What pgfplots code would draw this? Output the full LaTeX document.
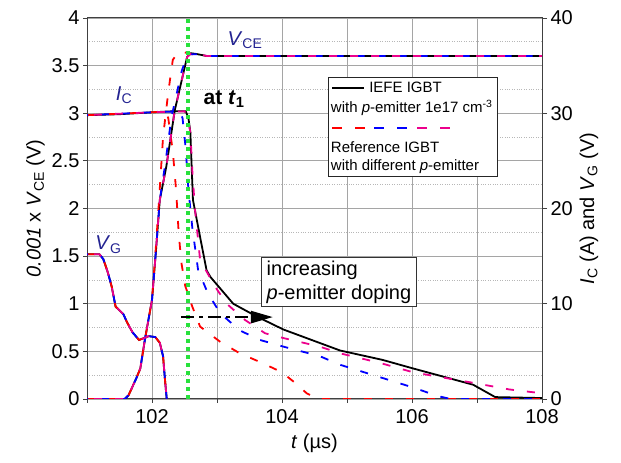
\documentclass[border=0pt]{standalone}
\usepackage{fontspec}
\setmainfont{Liberation Sans}
\usepackage{pgfplots}
\usepackage{pgfplotstable}
\pgfplotsset{compat=1.18}
\usetikzlibrary{arrows.meta}

\definecolor{navy}{RGB}{35,35,145}
\definecolor{mygreen}{RGB}{40,225,60}
\definecolor{gridgray}{RGB}{165,165,165}

% V_G, the same for all devices (left units = V/10)
\pgfplotstableread{
x y
101.00 1.52
101.19 1.52
101.25 1.47
101.32 1.33
101.38 1.18
101.44 0.97
101.50 0.93
101.56 0.89
101.62 0.80
101.70 0.70
101.80 0.62
101.88 0.64
101.95 0.66
102.05 0.65
102.12 0.59
102.17 0.45
102.20 0.20
102.24 -0.10
}\vgdata

% 0.001 x V_CE
\pgfplotstableread{
x y
101.00 0.00
101.58 0.00
101.64 0.04
101.70 0.13
101.76 0.22
101.82 0.32
101.89 0.62
101.95 0.85
102.00 1.04
102.06 1.55
102.12 2.09
102.22 2.44
102.35 3.03
102.54 3.59
102.60 3.63
102.70 3.62
102.85 3.60
108.00 3.60
}\vceK
\pgfplotstableread{
x y
101.00 0.00
101.58 0.00
101.64 0.04
101.70 0.13
101.76 0.22
101.82 0.32
101.89 0.62
101.95 0.85
102.00 1.04
102.05 1.50
102.10 2.00
102.17 2.75
102.25 3.22
102.32 3.56
102.40 3.64
102.50 3.64
102.60 3.62
102.80 3.60
108.00 3.60
}\vceR
\pgfplotstableread{
x y
101.00 0.00
101.58 0.00
101.64 0.04
101.70 0.13
101.76 0.22
101.82 0.32
101.89 0.62
101.95 0.85
102.00 1.04
102.06 1.55
102.12 2.09
102.20 2.45
102.30 2.96
102.46 3.45
102.55 3.62
102.70 3.62
102.85 3.60
108.00 3.60
}\vceB
\pgfplotstableread{
x y
101.00 0.00
101.58 0.00
101.64 0.04
101.70 0.13
101.76 0.22
101.82 0.32
101.89 0.62
101.95 0.85
102.00 1.04
102.06 1.55
102.12 2.09
102.22 2.44
102.35 3.03
102.54 3.59
102.62 3.64
102.72 3.62
102.85 3.60
108.00 3.60
}\vceM

% I_C (left units = A/10)
\pgfplotstableread{
x y
101.00 2.98
101.50 2.99
102.00 3.01
102.30 3.02
102.52 3.02
102.56 2.95
102.59 2.80
102.63 2.09
102.74 1.70
102.84 1.35
102.90 1.28
103.25 1.00
103.60 0.87
104.02 0.73
104.89 0.51
105.55 0.41
106.02 0.32
106.94 0.15
107.28 0.02
108.00 0.01
}\icK
\pgfplotstableread{
x y
101.00 2.98
102.00 3.01
102.20 3.02
102.25 2.95
102.32 2.60
102.37 2.20
102.41 1.75
102.45 1.44
102.51 1.19
102.62 0.97
102.74 0.76
103.05 0.60
103.35 0.48
103.69 0.38
104.00 0.28
104.20 0.17
104.38 0.06
104.55 0.00
108.00 0.00
}\icR
\pgfplotstableread{
x y
101.00 2.98
102.00 3.01
102.42 3.02
102.47 2.95
102.52 2.62
102.56 2.20
102.62 1.80
102.71 1.35
102.86 1.11
103.05 0.90
103.35 0.72
103.66 0.62
104.02 0.55
104.58 0.45
104.89 0.36
105.55 0.22
106.02 0.12
106.40 0.03
106.60 0.00
108.00 0.00
}\icB
\pgfplotstableread{
x y
101.00 2.98
102.00 3.01
102.50 3.02
102.55 2.96
102.59 2.80
102.62 2.40
102.66 2.00
102.74 1.46
102.97 1.18
103.15 1.00
103.43 0.83
103.74 0.69
104.02 0.64
104.58 0.55
104.89 0.48
105.50 0.38
106.02 0.28
106.94 0.17
107.50 0.10
108.00 0.06
}\icM

\pgfplotsset{
  solidk/.style={black, line width=1.8pt},
  dashr/.style={red, line width=1.8pt, dash pattern=on 8pt off 13pt, dash phase=0pt},
  dashb/.style={blue, line width=1.8pt, dash pattern=on 8pt off 13pt, dash phase=7pt},
  dashm/.style={magenta, line width=1.8pt, dash pattern=on 8pt off 13pt, dash phase=14pt},
}

\begin{document}
\begin{tikzpicture}
\useasboundingbox (0,0) rectangle (621pt,463pt);
\begin{axis}[
  at={(87pt,64pt)}, anchor=south west,
  width=455pt, height=381pt, scale only axis,
  xmin=101, xmax=108, ymin=0, ymax=4,
  xtick={101,102,103,104,105,106,107,108},
  xticklabels={,102,,104,,106,,108},
  xticklabel style={yshift=-3pt},
  ytick={0,0.5,1,1.5,2,2.5,3,3.5,4},
  minor ytick={0.25,0.75,1.25,1.75,2.25,2.75,3.25,3.75},
  grid=both,
  major grid style={gridgray, line width=0.8pt},
  minor grid style={gridgray!80, dotted, line width=0.8pt},
  tick align=outside, xtick pos=bottom, ytick pos=left,
  major tick length=4pt, minor tick length=0pt,
  axis line style={black!75, line width=1pt},
  tick style={black!75, line width=0.8pt},
  font=\fontsize{20}{24}\selectfont,
  /pgf/number format/assume math mode=true,
  xlabel={\textit{t} (µs)},
  xlabel style={yshift=-3pt},
  ylabel={\textit{0.001} x \textit{V}\textsubscript{CE} (V)},
  clip mode=individual,
]
% reference-device curves and the IEFE IGBT
\addplot[solidk] table {\vgdata};
\addplot[solidk] table {\vceK};
\addplot[solidk] table {\icK};
\addplot[dashr] table {\vgdata};
\addplot[dashr] table {\vceR};
\addplot[dashr] table {\icR};
\addplot[dashb] table {\vgdata};
\addplot[dashb] table {\vceB};
\addplot[dashb] table {\icB};
\addplot[dashm] table {\vgdata};
\addplot[dashm] table {\vceM};
\addplot[dashm] table {\icM};
% t1 marker
\addplot[mygreen, line width=4pt, dash pattern=on 4pt off 4pt] coordinates {(102.55,0) (102.55,4)};

% curve names
\node[text=navy] at (axis cs:103.43,3.77) {\textit{V}\textsubscript{CE}};
\node[text=navy] at (axis cs:101.57,3.19) {\textit{I}\textsubscript{C}};
\node[text=navy] at (axis cs:101.33,1.62) {\textit{V}\textsubscript{G}};
\node[font=\bfseries\fontsize{21}{24}\selectfont] at (axis cs:103.11,3.15) {at \textit{t}\textsubscript{1}};

% anchors for the legend, drawn after the axes
\coordinate (lgA) at (axis cs:104.72,3.38);
\coordinate (lgB) at (axis cs:107.32,2.34);
\coordinate (lg1) at (axis cs:104.77,3.27);
\coordinate (lg2) at (axis cs:104.75,3.06);
\coordinate (lg3) at (axis cs:104.77,2.85);
\coordinate (lg4) at (axis cs:104.75,2.64);
\coordinate (lg5) at (axis cs:104.75,2.44);

% doping annotation
\draw[black, line width=2.5pt, dash pattern=on 13pt off 5pt on 4pt off 5pt,
      -{Triangle[length=22pt,width=12pt]}] (axis cs:102.45,0.86) -- (axis cs:103.86,0.86);
\node[draw=black!80, line width=1pt, fill=white, anchor=north west, align=left,
      inner xsep=5pt, inner ysep=3pt, font=\fontsize{20}{24}\selectfont]
  at (axis cs:103.68,1.49) {increasing\\\textit{p}-emitter doping};
\end{axis}

\begin{axis}[
  at={(87pt,64pt)}, anchor=south west,
  width=455pt, height=381pt, scale only axis,
  xmin=101, xmax=108, ymin=0, ymax=40,
  axis x line=none, axis y line*=right,
  ytick={0,10,20,30,40},
  tick align=outside, major tick length=5pt,
  axis line style={black!75, line width=1pt},
  tick style={black!75, line width=0.8pt},
  font=\fontsize{20}{24}\selectfont,
  /pgf/number format/assume math mode=true,
  ylabel={\textit{I}\textsubscript{C} (A) and \textit{V}\textsubscript{G} (V)},
]
\end{axis}

% legend
\draw[draw=black!85, line width=1pt, fill=white] (lgA) rectangle (lgB);
\draw[draw=black, line width=2pt] (lg1) -- ++(32pt,0);
\begin{scope}[every node/.style={anchor=west, inner sep=0pt, font=\fontsize{15}{18}\selectfont}]
\node at ([xshift=37pt]lg1) {IEFE IGBT};
\node at (lg2) {with \textit{p}-emitter 1e17 cm\textsuperscript{-3}};
\node at (lg4) {Reference IGBT};
\node at (lg5) {with different \textit{p}-emitter};
\end{scope}
\draw[draw=red, line width=2pt] (lg3) -- ++(10pt,0) ++(13pt,0) -- ++(10pt,0);
\draw[draw=blue, line width=2pt] ([xshift=42pt]lg3) -- ++(10pt,0) ++(13pt,0) -- ++(10pt,0);
\draw[draw=magenta, line width=2pt] ([xshift=85pt]lg3) -- ++(10pt,0) ++(13pt,0) -- ++(10pt,0);
\end{tikzpicture}
\end{document}
